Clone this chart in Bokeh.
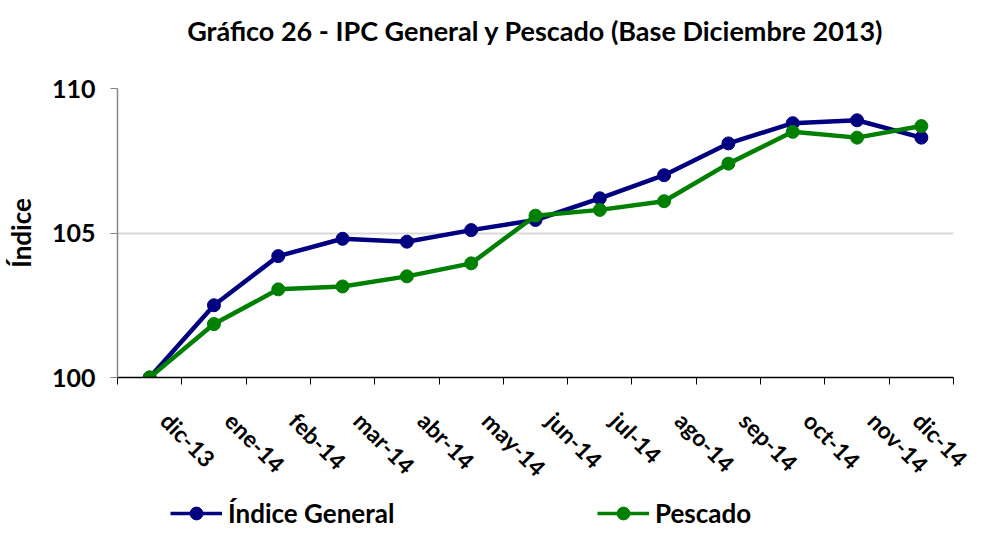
import math
from bokeh.plotting import figure
from bokeh.layouts import column
from bokeh.models import Range1d, FixedTicker, Legend, LegendItem
from bokeh.embed import file_html
from bokeh.resources import INLINE

months = ["dic-13", "ene-14", "feb-14", "mar-14", "abr-14", "may-14", "jun-14",
          "jul-14", "ago-14", "sep-14", "oct-14", "nov-14", "dic-14"]
indice_general = [100.0, 102.5, 104.2, 104.8, 104.7, 105.1, 105.45,
                  106.2, 107.0, 108.1, 108.8, 108.9, 108.3]
pescado = [100.0, 101.85, 103.05, 103.15, 103.5, 103.95, 105.6,
           105.8, 106.1, 107.4, 108.5, 108.3, 108.7]
y_ticks = [100, 105, 110]
series_names = ["Índice General", "Pescado"]
chart_title = "Gráfico 26 - IPC General y Pescado (Base Diciembre 2013)"

FONT = "Lato"
BLUE = "#000080"
GREEN = "#008000"

xs = list(range(len(months)))
label_pos = [i + 0.24 for i in xs]

W = 973
H_TITLE = 60
H_MAIN = 434
H_LEG = 35

# title strip (its frame is aligned with the chart frame)
tf = figure(width=W, height=H_TITLE, output_backend="svg", toolbar_location=None,
            x_axis_type=None, y_axis_type=None,
            x_range=Range1d(0, 1), y_range=Range1d(0, 1), min_border=0)
tf.outline_line_color = None
tf.xgrid.grid_line_color = None
tf.ygrid.grid_line_color = None
tf.title.text = chart_title
tf.title.text_font = FONT
tf.title.text_font_size = "27px"
tf.title.text_font_style = "bold"
tf.title.align = "center"
tf.title.text_color = "black"
tf.title.standoff = 22
tf.title.offset = -6

p = figure(width=W, height=H_MAIN, output_backend="svg", toolbar_location=None,
           x_range=Range1d(-0.5, len(months) - 0.5), y_range=Range1d(100, 110),
           min_border_left=117, min_border_right=20, min_border_top=88 - H_TITLE,
           min_border_bottom=H_MAIN - (377 - H_TITLE), title_location=None)
p.outline_line_color = None

l1 = p.line(xs, indice_general, line_color=BLUE, line_width=4.5)
c1 = p.scatter(xs, indice_general, size=13, fill_color=BLUE, line_color=BLUE)
l2 = p.line(xs, pescado, line_color=GREEN, line_width=4.5)
c2 = p.scatter(xs, pescado, size=13, fill_color=GREEN, line_color=GREEN)

# x axis
xa = p.xaxis[0]
xa.ticker = FixedTicker(ticks=label_pos, minor_ticks=[i - 0.5 for i in range(len(months) + 1)])
xa.major_label_overrides = {lp: m for lp, m in zip(label_pos, months)}
xa.major_label_orientation = -math.pi / 4
xa.major_tick_out = 0
xa.major_tick_in = 0
xa.minor_tick_out = 7
xa.minor_tick_in = 0
xa.minor_tick_line_color = "black"
xa.axis_line_color = "black"
xa.axis_line_width = 1.5
xa.major_label_text_font = FONT
xa.major_label_text_font_size = "23px"
xa.major_label_text_font_style = "bold"
xa.major_label_text_color = "black"
xa.major_label_standoff = 32

# y axis
ya = p.yaxis[0]
ya.ticker = FixedTicker(ticks=y_ticks)
ya.minor_tick_line_color = None
ya.major_tick_out = 7
ya.major_tick_in = 0
ya.axis_line_color = "#868686"
ya.axis_line_width = 1.5
ya.major_tick_line_color = "#868686"
ya.major_label_text_font = FONT
ya.major_label_text_font_size = "25px"
ya.major_label_text_font_style = "bold"
ya.major_label_text_color = "black"
ya.major_label_standoff = 15
ya.axis_label = "Índice"
ya.axis_label_text_font = FONT
ya.axis_label_text_font_size = "26px"
ya.axis_label_text_font_style = "bold"
ya.axis_label_text_color = "black"
ya.axis_label_standoff = 12

p.xgrid.grid_line_color = None
p.ygrid.grid_line_color = "#d9d9d9"
p.ygrid.grid_line_width = 2

# legend strip below the chart (its frame is aligned with the chart frame)
lf = figure(width=W, height=H_LEG, output_backend="svg", toolbar_location=None,
            x_axis_type=None, y_axis_type=None,
            x_range=Range1d(0, 1), y_range=Range1d(0, 1),
            min_border=0)
lf.outline_line_color = None
lf.xgrid.grid_line_color = None
lf.ygrid.grid_line_color = None
off = [-10, -9]
ll1 = lf.line(off, off, line_color=BLUE, line_width=3.5)
lc1 = lf.scatter(off, off, size=10, fill_color=BLUE, line_color=BLUE)
ll2 = lf.line(off, off, line_color=GREEN, line_width=3.5)
lc2 = lf.scatter(off, off, size=10, fill_color=GREEN, line_color=GREEN)

legend = Legend(items=[
    LegendItem(label=series_names[0], renderers=[ll1, lc1]),
    LegendItem(label=series_names[1], renderers=[ll2, lc2]),
], orientation="horizontal", location=(170 - 117, 0))
legend.label_text_font = FONT
legend.label_text_font_size = "26px"
legend.label_text_font_style = "bold"
legend.label_text_color = "black"
legend.glyph_width = 52
legend.glyph_height = 32
legend.label_width = 369
legend.label_standoff = 6
legend.spacing = 0
legend.border_line_color = None
legend.background_fill_alpha = 0
legend.padding = 0
legend.margin = 0
lf.add_layout(legend)

layout = column(tf, p, lf, spacing=0)
open("out.html", "w").write(file_html(layout, INLINE))
